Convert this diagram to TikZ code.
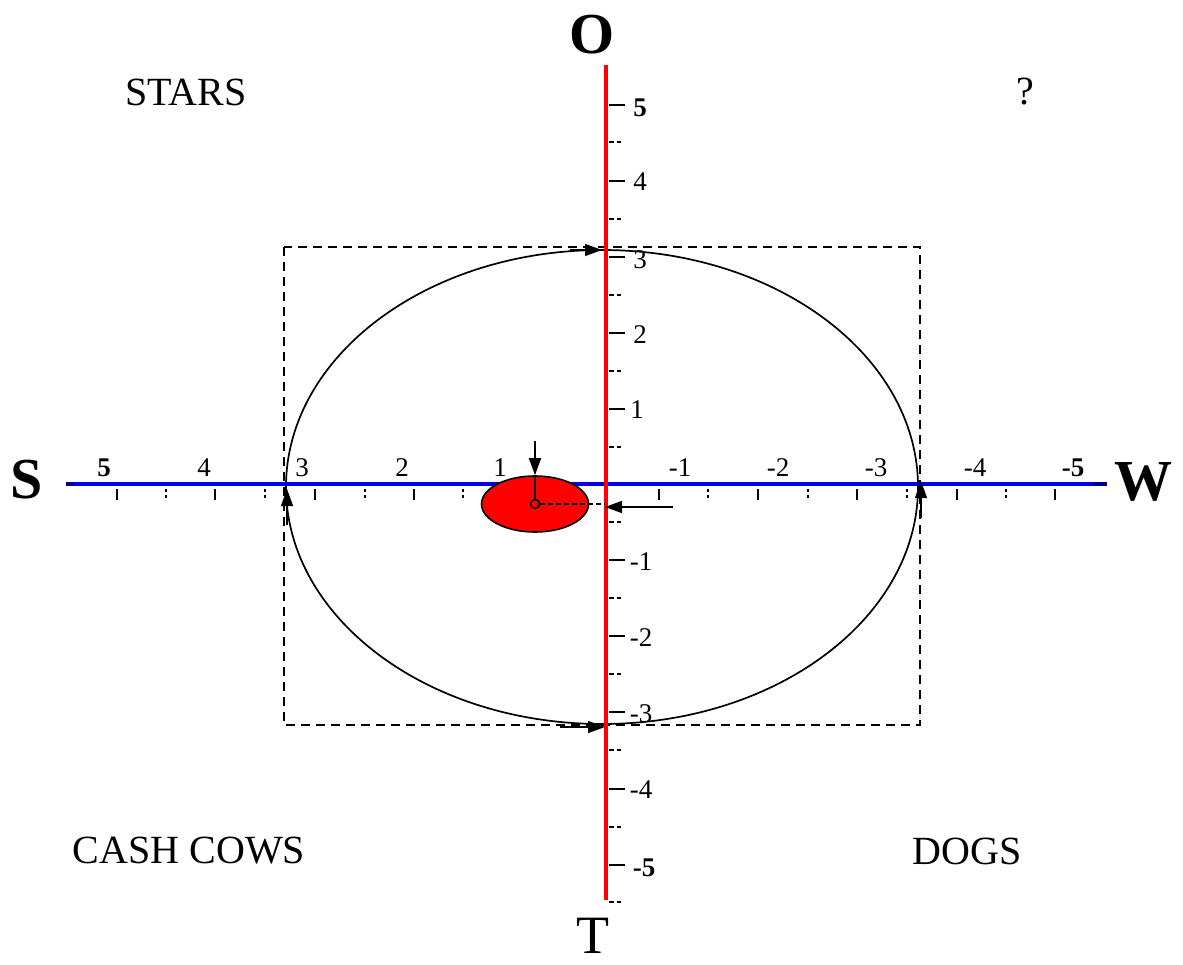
\documentclass[tikz,border=0pt]{standalone}
\usepackage{fontspec}
\setmainfont{Liberation Serif}
\usetikzlibrary{arrows.meta,shapes.geometric}
\begin{document}
\begin{tikzpicture}[x=1pt,y=-1pt,
  tlbl/.style={font=\fontsize{27}{27}\selectfont, inner sep=0pt},
  tbold/.style={font=\fontsize{27}{27}\selectfont\bfseries, inner sep=0pt},
  quad/.style={font=\fontsize{40}{40}\selectfont, inner sep=0pt},
  big/.style={font=\fontsize{58}{58}\selectfont\bfseries, inner sep=0pt},
  bigreg/.style={font=\fontsize{54}{54}\selectfont, inner sep=0pt},
  majtick/.style={line width=2.2pt},
  mintick/.style={line width=2pt, dash pattern=on 3pt off 2.5pt},
  vmintick/.style={line width=1.6pt, dash pattern=on 4.5pt off 3pt},
  tip/.style={-{Triangle[length=17pt,width=12pt]}, line width=1.4pt},
  box/.style={dashed, line width=1.6pt, dash pattern=on 9pt off 6pt}
]
\useasboundingbox (0,0) rectangle (1183,964);

% dashed box and big ellipse
\draw[box] (284,247) rectangle (920,725);
\draw[line width=1.7pt] (602,487) ellipse [x radius=316pt, y radius=237pt];

% horizontal axis
\coordinate (sL) at (66,484);
\coordinate (sR) at (1107,484);
\coordinate (bL) at (73,484);
\coordinate (bR) at (1093,484);
\draw[line width=3.2pt, color={rgb,255:red,0;green,0;blue,140}] (sL) -- (sR);
\draw[line width=4.4pt, color={rgb,255:red,0;green,0;blue,230}] (bL) -- (bR);

% horizontal ticks
\foreach \x in {117,215,315,414,659,758,857,957,1055}
  \draw[majtick] (\x,489) -- (\x,500);
\foreach \x in {166,265,365,463,708,808,907,1006}
  \draw[mintick] (\x,489) -- (\x,500);

% vertical ticks
\foreach \y in {105,181,257,333,409,560,636,712,789,865}
  \draw[majtick] (609,\y) -- (625,\y);
\foreach \y in {142,219,295,371,447,522,598,674,750,827,902}
  \draw[vmintick] (609,\y) -- (622,\y);

% red ellipse
\node[ellipse, draw, line width=1.6pt, fill=red, minimum width=107pt, minimum height=56pt, inner sep=0pt] (blob) at (535,504) {};

% vertical axis
\coordinate (oT) at (606,65);
\coordinate (oB) at (606,900);
\draw[line width=4.2pt, red] (oT) -- (oB);

% ellipse arrows
\coordinate (topS) at (570,250);
\coordinate (topE) at (602,250);
\coordinate (botS) at (560,727);
\coordinate (botE) at (605,727);
\coordinate (lefS) at (287,525);
\coordinate (lefE) at (287,489);
\coordinate (rigS) at (921,518);
\coordinate (rigE) at (921,481);
\draw[tip] (topS) -- (topE);
\draw[tip] (botS) -- (botE);
\draw[tip] (lefS) -- (lefE);
\draw[tip] (rigS) -- (rigE);

% marker in red ellipse
\node[circle, draw, line width=1.5pt, minimum size=9pt, inner sep=0pt] (cen) at (535,504) {};
\draw[line width=1.5pt] (cen) -- (blob.north);
\coordinate (downS) at (535,441);
\draw[tip] (downS) -- (blob.north);
\coordinate (axP) at (605,507);
\coordinate (axD) at (605,504);
\draw[line width=1.5pt, dashed, dash pattern=on 5pt off 3pt] (cen) -- (axD);
\coordinate (lS) at (673,507);
\draw[tip] (lS) -- (axP);

% horizontal tick labels
\node[tbold] (h5) at (104,468) {5};
\node[tlbl] (h4) at (204,468) {4};
\node[tlbl] (h3) at (302,468) {3};
\node[tlbl] (h2) at (402,468) {2};
\node[tlbl] (h1) at (500,468) {1};
\node[tlbl] (hm1) at (680,468) {-1};
\node[tlbl] (hm2) at (778,468) {-2};
\node[tlbl] (hm3) at (876,468) {-3};
\node[tlbl] (hm4) at (975,468) {-4};
\node[tbold] (hm5) at (1073,468) {-5};

% vertical tick labels
\node[tbold] (v5) at (640,108) {5};
\node[tlbl] (v4) at (640,182) {4};
\node[tlbl] (v3) at (640,260) {3};
\node[tlbl] (v2) at (640,335) {2};
\node[tlbl] (v1) at (637,410) {1};
\node[tlbl] (vm1) at (641,562) {-1};
\node[tlbl] (vm2) at (641,638) {-2};
\node[tlbl] (vm3) at (641,714) {-3};
\node[tlbl] (vm4) at (641,790) {-4};
\node[tbold] (vm5) at (644,868) {-5};

% axis letters
\node[big] (O) at (592,35) {O};
\node[big] (S) at (27,480) {S};
\node[big] (W) at (1143,482) {W};
\node[bigreg] (T) at (593,936) {T};

% quadrant labels
\node[quad] (stars) at (186,92) {STARS};
\node[quad] (q) at (1025,92) {?};
\node[quad] (cash) at (189,851) {CASH COWS};
\node[quad] (dogs) at (967,851) {DOGS};
\end{tikzpicture}
\end{document}
